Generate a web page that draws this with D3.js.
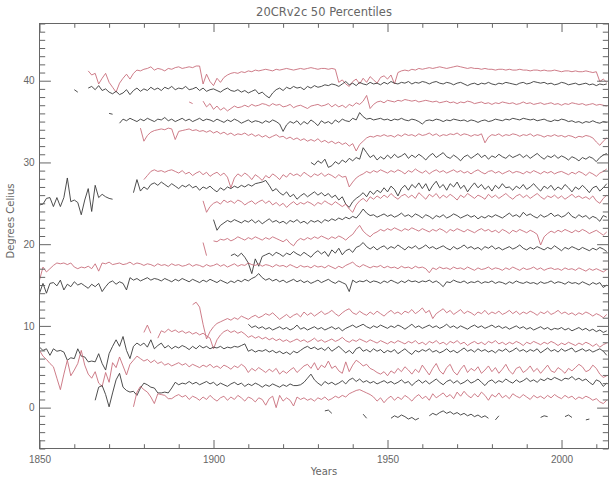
<!doctype html>
<meta charset=utf8>
<title>20CRv2c 50 Percentiles</title>
<style>
  html {
    font-family: 'DejaVu Sans', 'Liberation Sans', sans-serif;
    background-color: white;
  }

  body {
    margin: 0;
  }

  svg {
    display: block;
  }

  .line {
    fill: none;
    stroke-width: 0.9;
  }

  .axis path,
  .axis line,
  .frame {
    stroke: #666;
    fill: none;
  }

  text {
    fill: #666;
  }
</style>
<svg width=613 height=479></svg>
<script src=https://d3js.org/d3.v7.min.js></script>
<script>
  // x axis: years, y axis: degrees
  var xMajorTicks = [1850, 1900, 1950, 2000];
  var yMajorTicks = [0, 10, 20, 30, 40];

  // one array per percentile line, top to bottom, values from the first year on (null = no data)
  var red1 = [41.2, 40.7, 40.9, 39.6, 40.3, 40.9, 39.8, 39.2, 38.6, 39.7, 40.3, 40.8, 40.2, 40.9, 41.3,
    41.2, 41.4, 41.5, 41.7, 41.3, 41.5, 41.4, 41.2, 41.5, 41.4, 41.6, 41.7, 41.5, 41.6, 41.7, 41.6, 41.8, 41.8,
    39.6, 40.8, 39.9, 39.4, 40.3, 39.8, 40.4, 40.7, 40.9,
    41.0, 40.9, 41.1, 41.0, 41.2, 41.1, 41.3, 41.2, 41.3, 41.4, 41.3, 41.2, 41.4, 41.3, 41.4, 41.5, 41.4, 41.3, 41.4, 41.5,
    41.4, 41.5, 41.6, 41.5, 41.4, 41.5, 41.5, 41.4, 41.5, 41.4,
    39.8, 40.1, 39.6, 39.3, 39.9, 40.2, 39.6, 40.3, 39.8, 40.5, 40.1, 39.7, 40.4, 40.6, 40.2, 40.7, 39.6,
    41.0, 41.2, 41.3, 41.2, 41.4, 41.3, 41.5, 41.4, 41.5, 41.6, 41.5, 41.6, 41.7, 41.6, 41.5, 41.6, 41.7, 41.8, 41.7, 41.6,
    41.5, 41.6, 41.5, 41.5, 41.4, 41.5, 41.4, 41.4, 41.3, 41.4, 41.4, 41.3, 41.4, 41.3, 41.3, 41.4, 41.3, 41.3, 41.2, 41.3,
    41.3, 41.2, 41.3, 41.2, 41.2, 41.3, 41.2, 41.1, 41.2, 41.2, 41.1, 41.2, 41.1, 41.1, 41.2, 41.1, 41.0, 41.1,
    39.9, 40.2, 39.8];
  var black1 = [38.9, 38.6, null, null,
    39.1, 39.3, 38.9, 39.4, 38.8, 39.0, 38.6, 38.4, 38.7, 38.3, 38.5, 38.9, 38.3, 38.8, 39.1, 38.7,
    39.0, 38.8, 39.2, 38.9, 39.1, 38.8, 39.2, 39.0, 39.3, 38.9, 39.1, 39.0, 39.3, 38.9, 39.0, 39.2, 38.8, 39.1,
    38.7, 38.9, 39.0, 38.8, 38.6, 38.9, 39.1, 38.8, 38.7, 38.9, 38.6, 38.8, 38.5, 38.7, 38.9, 38.4, 38.6, 38.2,
    37.9, 38.5, 38.9, 39.1, 38.8, 39.2, 39.0, 39.3, 39.1, 39.2, 38.9, 39.3, 39.1, 39.4, 39.2, 39.3, 39.5, 39.4, 39.6, 39.5,
    39.3, 39.6, 39.9, 39.5, 39.7, 39.4, 39.8, 39.6, 39.5, 39.8, 39.6, 39.7, 39.5, 39.8, 39.6, 39.9, 39.7, 39.6, 39.8, 39.7,
    39.9, 39.6, 39.8, 39.7, 39.9, 39.8, 39.6, 39.8, 39.9, 39.7, 39.6, 39.8, 39.7, 39.5, 39.7, 39.8, 39.6, 39.4, 39.6, 39.7,
    39.5, 39.7, 39.6, 39.8, 39.6, 39.5, 39.7, 39.6, 39.8, 39.7, 39.6, 39.5, 39.7, 39.8, 39.6, 39.7, 39.9, 39.8, 39.7, 39.8,
    39.6, 39.7, 39.5, 39.6, 39.8, 39.7, 39.5, 39.6, 39.7, 39.5, 39.6, 39.7, 39.5, 39.6, 39.4, 39.6, 39.5, 39.6];
  var red2 = [37.4, 37.2, null, null,
    37.5, 36.8, 37.2, 36.5, 36.9, 36.4, 36.7, 36.3, 36.6, 36.9, 36.7, 36.8, 37.0, 36.8, 37.1, 36.9, 37.0, 37.2, 37.1, 36.9,
    37.2, 37.0, 37.1, 36.8, 36.9, 37.1, 36.7, 36.9, 37.0, 36.8, 36.6, 36.9, 37.0, 37.1, 36.9, 37.0, 37.2, 36.8, 37.1,
    36.8, 37.0, 36.7, 37.1, 36.9, 37.3, 37.1, 37.5, 38.2, 36.6, 37.1, 37.4, 37.5, 37.3, 37.6, 37.5, 37.4, 37.6, 37.5, 37.7,
    37.6, 37.5, 37.6, 37.4, 37.5, 37.6, 37.5, 37.4, 37.5, 37.3, 37.4, 37.5, 37.3, 37.4, 37.2, 37.4, 37.3, 37.5, 37.4, 37.2,
    37.3, 37.4, 37.2, 37.3, 37.1, 37.3, 37.2, 37.4, 37.3, 37.2, 37.3, 37.1, 37.2, 37.4, 37.2, 37.3, 37.1, 37.2, 37.3, 37.1,
    37.2, 37.3, 37.1, 37.2, 37.0, 37.2, 37.1, 37.3, 37.2, 37.1, 37.2, 37.0, 37.1, 37.2, 37.0, 37.1, 37.0, 36.9];
  var black2 = [36.0, 35.9, null,
    34.8, 35.3, 35.1, 35.4, 35.2, 35.0, 35.3, 35.1, 35.4, 35.2, 35.0, 35.3, 35.2, 35.5, 35.1, 35.3, 35.0, 35.2, 35.4, 35.1,
    35.3, 35.0, 35.2, 35.4, 35.1, 35.3, 35.2, 35.0, 35.3, 35.1, 34.9, 35.2, 35.0, 35.3, 35.1, 34.8, 35.0, 35.2, 34.9, 35.1,
    35.0, 34.8, 35.1, 34.9, 35.2, 35.0, 34.7, 33.8, 34.6, 35.0, 34.8, 35.1, 34.6, 35.0, 34.7, 35.2, 34.9, 34.5, 35.1, 34.8,
    35.0, 34.7, 35.2, 34.9, 35.3, 35.1, 35.0, 35.4, 35.2, 36.1, 35.6, 35.3, 35.4, 35.2, 35.3, 35.4, 35.2, 35.3, 35.1, 35.3,
    35.2, 35.4, 35.2, 35.1, 35.3, 35.2, 35.0, 34.7, 35.1, 35.2, 35.1, 35.3, 35.2, 35.0, 35.2, 35.1, 35.3, 35.2, 35.1, 35.2,
    35.0, 35.2, 35.1, 34.9, 35.1, 35.2, 35.0, 35.1, 35.3, 35.2, 35.1, 35.3, 35.2, 35.4, 35.3, 35.2, 35.4, 35.3, 35.2, 35.3,
    35.1, 35.2, 35.3, 35.1, 35.0, 35.2, 35.1, 35.3, 35.2, 35.0, 35.1, 34.9, 35.0, 34.8, 35.0, 34.9, 35.1, 34.9, 34.8, 35.0, 34.9];
  var red3 = [34.2, 32.6, 33.3, 33.7, 33.9, 34.0, 34.1, 34.0, 34.2, 34.1, 32.8, 33.8, 33.9, 34.0, 34.1, 33.9, 34.0, 33.8, 33.9, 33.7,
    33.9, 33.6, 33.8, 33.5, 33.7, 33.4, 33.6, 33.3, 33.5, 33.4, 33.6, 33.3, 33.5, 33.2, 33.4, 33.1, 33.3, 33.0, 33.2, 33.4,
    33.1, 33.2, 32.9, 33.1, 32.8, 33.0, 32.7, 32.9, 32.6, 32.8, 32.6, 32.9, 32.5, 32.7, 32.4, 32.6, 32.3, 32.5, 32.2, 32.4,
    32.0, 32.3, 31.4, 32.2, 32.6, 33.0, 33.2, 33.1, 33.3, 33.2, 33.4, 33.2, 33.3, 33.1, 33.4, 33.2, 33.5, 33.3, 33.4, 33.2,
    33.5, 33.3, 33.4, 33.6, 33.3, 33.5, 33.2, 33.4, 33.3, 33.5, 33.4, 33.6, 33.3, 33.5, 33.4, 33.2, 33.4, 33.3, 33.5, 32.4,
    33.1, 33.4, 33.3, 33.5, 33.2, 33.4, 33.3, 33.5, 33.4, 33.2, 33.4, 33.3, 33.5, 33.2, 33.4, 33.3, 33.1, 33.3, 33.2, 33.4,
    33.2, 33.3, 33.1, 33.3, 33.2, 33.0, 33.2, 33.1, 33.3, 33.2, 33.0, 32.5, 32.1, 32.6, 33.0];
  var black3 = [30.0, 29.7, 30.2, 29.9, 30.4, 29.4, 29.6, 30.1, 29.8, 30.3, 30.0, 30.5, 30.2, 30.6, 30.4, 31.8, 31.2, 30.6, 30.9, 30.3,
    30.7, 30.4, 30.9, 30.5, 31.0, 30.6, 30.8, 31.1, 30.5, 30.9, 30.6, 31.0, 30.7, 30.3, 30.8, 31.1, 30.6, 30.9, 31.2, 30.7,
    30.5, 30.9, 30.6, 30.2, 30.7, 30.9, 30.5, 30.8, 31.1, 30.6, 30.9, 30.4, 30.8, 30.6, 31.0, 30.7, 30.5, 30.9, 30.6, 30.8,
    31.0, 30.6, 30.9, 30.5, 30.8, 31.1, 30.7, 30.4, 30.8, 30.6, 30.9, 30.5, 30.8, 30.6, 30.3, 30.7, 30.5, 30.2, 30.6, 30.4,
    30.7, 30.5, 30.1, 30.6, 30.9, 31.1];
  var red4 = [27.9, 28.4, 28.9, 29.1, 28.9, 29.0, 28.8, 29.0, 29.1, 28.9, 28.7, 29.0, 28.6, 28.8, 28.4, 28.7, 28.9, 28.5, 28.8, 28.3,
    28.6, 28.8, 28.4, 28.7, 28.2, 26.9, 28.1, 28.6, 28.3, 28.7, 28.4, 27.9, 28.5, 28.2, 27.8, 28.4, 28.1, 28.6, 28.3, 27.9,
    28.5, 28.2, 28.7, 28.4, 28.6, 28.3, 28.8, 28.5, 28.2, 28.6, 28.4, 28.7, 28.3, 28.6, 28.4, 28.1, 28.5, 28.2, 28.3, 27.0,
    27.6, 28.1, 28.4, 28.6, 28.9, 28.7, 29.0, 28.8, 29.1, 28.9, 28.7, 29.0, 28.8, 29.1, 28.9, 28.6, 29.0, 28.8, 29.2, 28.9,
    28.7, 29.0, 28.6, 28.9, 29.1, 28.8, 29.0, 28.7, 28.9, 29.1, 28.8, 29.0, 28.7, 28.9, 28.6, 28.9, 29.1, 28.8, 28.6, 28.9,
    29.0, 28.7, 28.9, 28.6, 28.8, 29.0, 28.7, 28.9, 28.8, 28.6, 28.9, 28.7, 29.0, 28.8, 28.6, 28.9, 28.7, 28.9, 28.6, 28.8,
    28.9, 28.7, 28.5, 28.8, 28.6, 28.9, 28.7, 28.4, 28.8, 28.6, 28.3, 28.7, 28.9, 29.2];
  var black4 = [24.8, 24.9, 25.6, 25.7, 24.6, 25.7, 24.6, 25.7, 28.1, 25.2, 25.4, 25.1, 23.6, 25.4, 26.8, 24.0, 27.2, 25.7, 26.1, 25.8,
    25.6, 25.5, null, null, null, null, null,
    26.3, 27.9, 26.5, 27.0, 26.7, 27.3, 27.5, 27.2, 27.6, 27.3, 27.0, 27.4, 27.1, 26.8, 27.2, 27.0, 27.3, 26.9, 27.1, 26.6,
    27.0, 26.8, 27.1, 26.7, 26.4, 26.9, 26.6, 27.0, 26.8, 27.1, 26.9, 27.2, 27.0, 27.3, 27.1, 27.4, 27.5, 27.6, 27.8, 27.2,
    26.5, 26.8, 26.3, 26.0, 26.4, 25.8, 26.1, 25.5, 25.9, 26.2, 25.8, 26.1, 26.4, 26.0, 26.3, 25.9, 26.2, 25.7, 26.0, 25.4,
    25.8, 24.9, 24.5, 25.2, 25.6, 25.9, 26.3, 25.8, 26.5, 26.1, 26.6, 26.3, 26.9, 26.4, 27.1, 26.7, 25.9, 26.8, 27.2, 26.6,
    27.3, 26.9, 27.5, 26.8, 27.4, 26.5, 27.2, 27.7, 26.9, 27.3, 26.6, 27.4, 27.0, 27.6, 26.8, 27.2, 26.4, 27.0, 27.5, 26.9,
    27.3, 26.7, 27.1, 26.5, 27.2, 26.8, 27.4, 26.9, 27.0, 26.6, 27.1, 26.8, 27.3, 26.7, 27.0, 27.4, 26.9, 26.5, 27.1, 26.8,
    27.2, 26.6, 27.0, 26.7, 27.3, 26.9, 26.4, 27.0, 26.7, 27.2, 26.8, 26.3, 26.9, 27.1, 26.5, 26.9, 27.4];
  var red5 = [25.3, 23.9, 24.6, 25.0, 25.2, 24.9, 25.4, 25.1, 25.3, 25.0, 25.4, 25.2, 24.8, 25.1, 25.3, 24.9, 25.2, 25.4, 25.0, 25.3,
    24.8, 25.1, 24.7, 25.0, 24.5, 24.9, 25.2, 24.8, 25.1, 24.9, 25.2, 25.0, 24.7, 25.1, 24.9, 25.3, 25.0, 24.8, 25.2, 24.9,
    24.6, 24.9, 24.3, 23.9, 24.8, 25.3, 25.6, 25.2, 25.8, 25.5, 25.9, 25.6, 26.0, 25.7, 26.2, 25.8, 25.5, 25.9, 26.1, 25.7,
    26.0, 25.6, 26.3, 25.9, 25.5, 26.1, 25.8, 26.2, 25.6, 26.0, 25.7, 26.1, 25.8, 25.4, 26.0, 25.7, 26.2, 25.9, 25.6, 26.0,
    25.8, 25.5, 26.1, 25.7, 26.0, 25.6, 25.9, 26.2, 25.8, 25.5, 25.9, 26.1, 25.7, 26.0, 25.6, 25.9, 26.2, 25.8, 25.5, 25.9,
    25.7, 26.0, 25.6, 25.9, 25.5, 25.8, 26.1, 25.7, 25.9, 25.6, 25.8, 25.5, 25.9, 25.3, 25.0, 25.6, 26.0];
  var black5 = [23.0, 21.7, 22.3, 22.6, 22.9, 22.7, 23.0, 22.8, 22.6, 22.9, 22.7, 23.0, 22.6, 22.9, 22.5, 22.8, 23.1, 22.7, 22.9, 22.6,
    22.8, 22.5, 22.9, 22.7, 23.0, 22.6, 22.8, 22.5, 22.9, 22.7, 22.9, 22.6, 23.0, 22.8, 23.1, 22.9, 23.2, 23.0, 23.3, 23.1,
    23.4, 23.2, 23.7, 24.3, 23.8, 23.5, 23.6, 23.3, 23.5, 23.7, 23.4, 23.6, 23.3, 23.5, 23.8, 23.4, 23.6, 23.3, 23.7, 23.5,
    23.2, 23.6, 23.4, 23.1, 23.5, 23.3, 23.6, 23.2, 23.4, 23.7, 23.5, 23.2, 23.4, 23.6, 23.3, 23.5, 23.1, 23.4, 23.2, 23.5,
    23.3, 23.6, 23.4, 23.2, 23.5, 23.8, 23.4, 23.6, 23.3, 23.9, 23.5, 23.7, 23.4, 23.2, 23.6, 23.3, 23.5, 23.8, 23.4, 23.6,
    23.3, 23.5, 23.9, 23.4, 23.2, 23.6, 23.3, 23.5, 23.1, 23.4, 23.2, 22.8, 23.5, 23.3];
  var red6 = [20.2, 18.6, null,
    20.4, 20.3, 20.6, 20.5, 20.7, 20.4, 20.6, 20.9, 20.7, 20.5, 20.8, 20.6, 20.9, 20.7, 20.5, 20.8, 20.6, 20.9, 20.7, 20.5,
    20.3, 20.6, 20.1, 19.8, 20.4, 20.7, 20.5, 20.8, 20.6, 20.9, 20.7, 21.0, 20.8, 20.6, 20.9, 20.7, 21.0, 20.8, 20.5, 20.9,
    21.2, 21.8, 22.3, 21.6, 21.2, 20.9, 21.3, 21.5, 21.8, 21.6, 21.9, 21.7, 22.0, 21.8, 21.6, 21.9, 21.7, 22.0, 21.8, 21.6,
    21.9, 21.7, 21.5, 21.8, 21.6, 21.9, 21.7, 21.4, 21.8, 21.6, 21.9, 21.7, 21.5, 21.8, 21.6, 21.4, 21.7, 21.9, 21.6, 21.8,
    21.5, 21.7, 21.4, 21.8, 21.6, 21.3, 21.7, 21.5, 21.8, 21.6, 21.4, 21.7, 21.5, 21.2, 19.9, 20.9, 21.3, 21.6, 21.4, 21.7,
    21.5, 21.8, 21.6, 21.4, 21.7, 21.5, 21.8, 21.6, 21.3, 21.5, 21.7, 21.4, 21.1, 21.5];
  var black6 = [18.6, 18.8, 18.5, 18.9, 18.4, 17.7, 16.4, 18.2, 17.3, 18.5, 18.7, 18.9, 18.6, 19.0, 18.8, 18.5, 18.9, 18.7, 19.1, 18.8,
    18.6, 19.0, 18.7, 18.4, 18.9, 19.2, 18.8, 19.1, 18.5, 19.3, 18.9, 19.5, 18.7, 19.2, 19.4, 19.0, 19.6, 19.8, 20.2, 19.7,
    19.4, 19.7, 19.3, 19.6, 19.8, 19.4, 19.7, 19.5, 19.9, 19.6, 19.3, 19.7, 19.5, 19.8, 19.4, 19.6, 19.9, 19.5, 19.7, 19.4,
    19.6, 19.8, 19.5, 19.3, 19.7, 19.4, 19.6, 19.9, 19.5, 19.7, 19.4, 19.6, 19.3, 19.7, 19.5, 19.8, 19.4, 19.6, 19.3, 19.5,
    19.7, 19.4, 19.6, 19.9, 19.5, 19.3, 19.6, 19.4, 19.7, 19.5, 19.3, 19.6, 19.4, 19.8, 19.5, 19.2, 19.6, 19.4, 19.7, 19.5,
    19.3, 19.6, 19.4, 19.2, 19.5, 19.3, 19.6, 19.4, 19.1];
  var red7 = [15.6, 17.2, 16.6, 17.0, 17.4, 17.7, 17.6, 17.7, 17.5, 17.7, 17.2, 17.0, 17.2, 17.1, 17.3, 17.0, 17.6, 16.7, 17.7, 17.6,
    17.8, 17.5, 17.6, 17.7, 17.5, 17.6, 17.8, 17.5, 17.7, 17.6, 17.4, 17.6, 17.5, 17.3, 17.6, 17.4, 17.5, 17.3, 17.6, 17.4,
    17.5, 17.3, 17.4, 17.6, 17.3, 17.5, 17.4, 17.2, 17.5, 17.3, 17.4, 17.6, 17.3, 17.5, 17.2, 17.4, 17.6, 17.3, 17.5, 17.4,
    17.7, 17.5, 17.4, 17.6, 17.3, 17.5, 17.4, 17.2, 17.5, 17.3, 17.4, 17.2, 17.5, 17.3, 17.1, 17.4, 17.2, 17.3, 17.1, 17.4,
    17.2, 17.3, 17.1, 17.4, 17.2, 17.0, 17.3, 17.1, 17.4, 17.6, 17.8, 17.4, 17.2, 17.5, 17.3, 17.1, 17.3, 17.2, 17.4, 17.1,
    17.3, 17.1, 17.2, 17.0, 17.3, 17.1, 17.2, 17.0, 17.3, 17.1, 17.2, 17.0, 16.5, 17.1, 16.9, 17.2, 17.0, 17.1, 16.9, 17.2,
    17.0, 17.1, 16.9, 17.2, 17.0, 16.8, 17.1, 16.9, 17.0, 17.2, 16.9, 17.1, 17.0, 16.8, 17.1, 16.9, 17.2, 17.0, 16.8, 17.1,
    16.9, 17.0, 17.2, 16.9, 17.1, 16.8, 17.0, 17.1, 16.9, 17.0, 16.8, 17.1, 16.9, 17.0, 16.8, 17.1, 16.9, 16.7, 17.0, 16.8,
    17.0, 16.8, 16.6, 16.9];
  var black7 = [14.0, 15.2, 14.0, 15.2, 15.3, 14.9, 15.6, 14.4, 15.1, 14.8, 15.4, 15.0, 15.2, 14.9, 14.6, 15.1, 14.8, 15.2, 14.2, 14.8,
    15.3, 15.5, 15.1, 15.4, 15.2, 14.4, 15.9, 15.6, 15.8, 15.5, 15.7, 15.9, 15.6, 15.8, 15.7, 15.5, 15.8, 15.6, 15.4, 15.7,
    15.5, 15.8, 15.6, 15.4, 15.7, 15.5, 15.3, 15.6, 15.4, 15.7, 15.5, 15.3, 15.6, 15.4, 15.2, 15.5, 15.3, 15.6, 15.4, 15.7,
    15.5, 15.8, 16.0, 16.4, 15.9, 15.6, 15.8, 15.5, 15.7, 15.4, 15.6, 15.3, 15.5, 15.7, 15.4, 15.6, 15.3, 15.5, 15.2, 15.4,
    15.6, 15.3, 15.5, 15.7, 15.4, 15.2, 15.5, 15.3, 15.1, 14.2, 15.6, 15.3, 15.5, 15.4, 15.6, 15.3, 15.5, 15.4, 15.2, 15.5,
    15.3, 15.6, 15.4, 15.2, 15.5, 15.3, 15.6, 15.4, 15.5, 15.3, 15.5, 15.4, 15.6, 15.3, 15.5, 15.2, 14.8, 15.4, 15.3, 15.6,
    15.4, 15.3, 15.5, 15.2, 15.4, 15.3, 15.5, 15.2, 15.4, 15.3, 15.5, 15.2, 15.4, 15.3, 15.1, 15.4, 15.2, 15.5, 15.3, 15.2,
    15.4, 15.2, 15.3, 15.1, 15.4, 15.2, 15.3, 15.5, 15.2, 15.4, 15.3, 15.1, 15.4, 15.2, 15.3, 15.1, 15.4, 15.2, 15.0, 15.3,
    15.1, 15.3, 14.7, 15.0];
  var red8 = [12.6, 12.9, 12.3, 10.2, 8.4, 9.3, 9.9, 10.3, 10.5, 10.7, 10.9, 10.7, 11.0, 10.8, 11.2, 11.0, 10.8, 11.1, 11.3, 11.0,
    11.2, 11.5, 11.3, 11.6, 11.2, 10.8, 11.1, 11.4, 11.0, 11.3, 11.5, 11.1, 11.7, 11.3, 11.6, 11.2, 11.5, 11.8, 11.4, 11.6,
    11.9, 11.5, 11.2, 11.6, 11.9, 12.1, 11.6, 11.4, 11.8, 11.5, 11.3, 11.7, 11.4, 11.8, 11.5, 11.2, 11.6, 11.9, 11.5, 11.7,
    11.4, 11.8, 11.6, 12.0, 11.5, 11.8, 12.2, 11.6, 11.9, 10.9, 11.5, 11.8, 12.1, 11.6, 11.9, 11.4, 11.7, 12.0, 11.5, 11.8,
    11.6, 11.3, 11.7, 11.5, 11.9, 11.4, 11.7, 11.5, 11.8, 11.4, 11.6, 11.9, 11.5, 11.8, 11.4, 11.7, 11.5, 11.8, 11.6, 11.3,
    11.7, 11.5, 11.8, 11.4, 11.6, 11.9, 11.5, 11.7, 11.4, 11.6, 11.3, 11.6, 11.4, 11.7, 11.5, 11.2, 11.5, 11.3, 11.0, 11.4];
  var black8 = [10.2, 9.8, 10.0, 9.7, 9.9, 9.6, 9.8, 9.5, 9.7, 9.9, 9.6, 9.8, 9.5, 9.7, 10.1, 9.6, 9.8, 9.5, 9.7, 9.9,
    9.6, 9.8, 9.5, 9.7, 9.9, 9.6, 9.8, 9.4, 9.7, 9.9, 10.1, 9.8, 10.0, 10.2, 9.9, 9.7, 10.0, 9.8, 10.1, 9.9,
    9.7, 10.0, 9.8, 10.1, 9.9, 9.6, 9.9, 10.2, 9.8, 10.0, 9.7, 9.9, 10.1, 9.8, 10.0, 9.7, 9.9, 10.2, 9.8, 10.0,
    9.7, 10.0, 9.8, 9.6, 9.9, 10.1, 9.8, 10.0, 9.7, 9.9, 10.1, 9.8, 10.0, 9.7, 9.9, 9.6, 9.8, 10.0, 9.7, 9.9,
    9.6, 9.8, 9.5, 9.7, 9.9, 9.6, 9.8, 9.5, 9.7, 9.6, 9.8, 9.5, 9.7, 9.4, 9.6, 9.8, 9.5, 9.7, 9.4, 9.6,
    9.3, 9.5, 9.2, 9.4];
  var red9 = [9.2, 10.1, 9.1, null,
    8.5, 9.4, 9.2, 9.6, 9.3, 9.5, 9.2, 9.4, 9.1, 9.3, 9.0, 9.2, 8.9, 9.1, 8.8, 8.5, 7.2, 8.3, 8.9, 9.3,
    9.5, 9.2, 9.4, 9.1, 9.3, 9.0, 8.6, 8.8, 8.5, 8.7, 8.4, 8.6, 8.3, 8.5, 8.2, 8.4, 8.1, 8.3, 8.0, 8.2,
    8.4, 8.1, 8.3, 8.0, 8.2, 8.5, 8.1, 8.3, 8.0, 8.2, 8.4, 8.1, 8.3, 8.6, 8.2, 8.0, 8.3, 8.1, 8.4, 8.2,
    8.0, 8.3, 8.1, 7.9, 8.2, 8.0, 7.8, 8.1, 7.9, 8.2, 8.0, 7.8, 8.1, 7.9, 8.2, 7.8, 8.0, 7.7, 8.1, 7.9,
    8.2, 7.8, 8.0, 7.7, 8.1, 7.9, 8.2, 7.8, 8.0, 7.6, 7.9, 8.1, 7.8, 8.0, 7.7, 8.1, 7.9, 8.2, 7.8, 8.0,
    7.7, 8.0, 7.8, 8.1, 7.9, 7.6, 8.0, 7.8, 8.1, 7.9, 7.7, 8.0, 7.8, 8.1, 7.9, 7.6, 7.9, 7.7, 8.0, 7.8,
    7.6, 7.9, 7.7, 8.0, 7.8, 7.5, 7.8, 7.4, 7.7, 7.9];
  var black9 = [7.4, 7.0, 7.2, 6.4, 7.2, 6.9, 7.0, 6.8, 5.8, 6.1, 6.0, 7.2, 6.3, 6.2, 5.6, 5.7, 5.6, 6.6, 5.4, 4.6,
    6.6, 7.5, 8.3, 7.5, 8.7, 7.0, 6.0, 7.5, 7.9, 7.6, 7.9, 7.4, 8.3, 7.2, 7.6, 7.9, 7.3, 7.6, 7.2, 7.5,
    7.3, 7.6, 7.4, 7.1, 7.5, 7.2, 7.6, 7.3, 7.5, 7.2, 7.4, 7.3, 7.5, 7.2, 7.4, 7.3, 7.5, 7.4, 7.6, 7.8,
    6.9, 7.1, 6.8, 7.0, 6.9, 7.1, 6.8, 7.0, 6.7, 6.9, 6.6, 6.8, 6.5, 6.9, 6.7, 7.0, 7.3, 7.5, 7.2, 7.4,
    7.1, 7.3, 7.0, 7.4, 6.9, 7.2, 7.5, 7.1, 6.7, 7.0, 6.6, 7.2, 7.4, 6.9, 7.1, 6.8, 7.2, 6.9, 7.1, 6.7,
    7.0, 6.8, 7.1, 6.6, 6.9, 7.2, 6.8, 6.5, 7.0, 6.8, 7.1, 6.9, 7.2, 6.8, 7.0, 6.7, 6.9, 7.2, 6.8, 7.0,
    6.7, 7.0, 7.3, 6.9, 7.1, 6.8, 7.2, 6.9, 7.1, 6.8, 7.0, 6.7, 7.1, 6.9, 7.2, 6.8, 7.0, 7.3, 6.9, 7.1,
    6.8, 7.1, 6.9, 7.2, 6.7, 7.0, 7.3, 6.9, 7.1, 6.8, 7.2, 6.9, 7.1, 7.3, 6.8, 7.0, 7.2, 6.9, 7.1, 6.8,
    7.0, 7.2, 6.9, 6.4];
  var red10 = [7.0, 6.3, 5.9, 5.4, 5.0, 3.6, 2.2, 4.1, 5.8, 3.9, 4.6, 5.4, 7.0, 5.2, 4.1, 3.6, 4.4, 3.0, 2.6, 4.3,
    3.1, 5.5, 4.9, 6.2, 5.1, 4.0, 5.3, 5.8, 6.3, 6.0, 5.7, 5.9, 5.5, 5.8, 5.4, 5.6, 5.2, 5.4, 5.1, 5.3,
    5.5, 5.2, 5.4, 5.0, 5.3, 5.1, 4.9, 5.2, 5.0, 5.3, 4.9, 5.1, 4.8, 5.2, 5.0, 4.7, 5.1, 4.9, 5.3, 5.0,
    4.3, 4.8, 4.5, 4.9, 4.6, 4.3, 4.7, 4.4, 4.8, 4.1, 4.5, 4.2, 4.6, 4.9, 4.3, 4.7, 5.1, 5.3, 4.8, 5.5,
    4.6, 5.2, 4.9, 5.7, 4.8, 5.1, 4.5, 4.2, 5.6, 4.4, 5.2, 5.8, 5.5, 5.1, 5.3, 4.8, 4.6, 4.3, 4.1, 4.4,
    3.9, 4.5, 4.2, 4.8, 4.4, 5.0, 4.6, 4.1, 4.7, 4.3, 5.2, 4.6, 4.0, 4.8, 5.4, 4.5, 4.1, 4.9, 5.3, 4.4,
    4.0, 4.7, 5.2, 4.3, 4.8, 4.5, 5.0, 4.2, 4.6, 5.1, 4.4, 4.9, 4.2, 4.7, 5.3, 4.5, 4.1, 4.8, 5.0, 4.3,
    4.6, 5.1, 4.4, 4.8, 4.2, 4.7, 5.2, 4.5, 4.3, 4.9, 4.6, 4.2, 4.8, 4.5, 4.9, 5.3, 5.0, 4.4, 4.6, 5.2,
    4.8, 4.1, 3.7, 3.9];
  var black10 = [0.9, 2.5, 2.7, 1.6, 0.1, 1.8, 3.4, 4.2, 2.5, 2.1, 1.9, 2.0, 1.5, 2.4, 3.0, 2.8, 2.5, 2.4, 1.8, 1.8,
    1.9, 1.8, 2.4, 3.1, 2.8, 3.0, 2.9, 3.2, 2.9, 3.1, 2.8, 3.0, 3.2, 2.9, 3.1, 2.7, 3.0, 2.8, 2.6, 2.9,
    3.1, 2.8, 3.0, 2.6, 2.9, 2.7, 3.0, 2.8, 2.5, 2.8, 2.6, 2.9, 2.7, 2.5, 2.8, 2.6, 2.9, 2.7, 2.7, 2.8,
    3.1, 3.6, 4.1, 3.4, 3.0, 2.7, 3.2, 2.9, 3.1, 2.8, 3.0, 3.3, 2.9, 3.4, 3.6, 3.2, 3.5, 3.1, 3.3, 3.0,
    3.2, 2.9, 3.1, 3.3, 3.0, 3.2, 2.9, 3.1, 3.4, 3.0, 3.2, 2.7, 3.1, 3.4, 3.0, 3.3, 2.9, 3.2, 3.5, 3.1,
    2.8, 3.2, 3.4, 3.0, 3.3, 2.9, 3.1, 3.4, 3.0, 3.2, 3.5, 3.1, 2.7, 3.2, 3.4, 3.0, 3.3, 3.1, 3.5, 3.2,
    3.0, 3.4, 3.1, 3.3, 3.6, 3.2, 3.4, 3.1, 3.5, 3.3, 3.6, 3.4, 3.7, 3.5, 3.3, 3.6, 3.5, 3.8, 3.4, 3.6,
    3.3, 3.5, 3.1, 2.8, 3.4, 3.2, 2.6, 3.0];
  var red11 = [0.1, 1.9, 2.6, 2.2, 1.9, 1.3, 0.5, 1.7, 1.6, 1.5, 1.1, 1.1, 1.4, 1.6, 1.3, 1.5, 1.0, 1.4, 1.2, 0.9,
    1.3, 1.0, 1.5, 1.1, 0.8, 1.2, 1.4, 0.9, 1.3, 1.0, 1.5, 1.2, 0.8, 1.3, 1.1, 0.7, 1.2, 1.0, 0.3, 1.1,
    1.4, 0.0, 1.5, 0.8, 1.2, 0.9, 0.2, 1.3, 1.0, 1.2, 0.9, 1.1, 0.8, 1.2, 1.0, 1.3, 0.9, 1.1, 1.4, 1.2,
    1.5, 1.3, 1.7, 1.9, 2.1, 2.2, 2.0, 1.8, 1.6, 1.3, 0.8, 1.2, 0.6, 1.1, 1.4, 0.9, 1.3, 1.0, 1.5, 1.2,
    0.8, 1.3, 1.6, 1.1, 1.4, 0.9, 1.7, 1.2, 1.5, 1.8, 1.3, 1.6, 1.1, 1.9, 1.4, 2.0, 1.5, 1.2, 1.7, 1.3,
    1.9, 1.5, 0.9, 1.6, 1.3, 1.8, 1.2, 1.5, 1.1, 1.7, 1.4, 1.2, 1.6, 1.3, 1.0, 1.5, 1.2, 1.4, 1.1, 1.5,
    1.2, 1.6, 1.3, 1.1, 1.5, 1.2, 1.4, 1.0, 1.3, 1.1, 1.4, 1.2, 0.9, 1.1, 0.7, 0.5, 0.9];
  var black11 = [-0.4, -0.3, -0.7, null, null, null, null, null, null, null, null, -0.8, -1.3, null, null, null, null, null, null,
    -1.3, -1.0, -1.2, -0.9, -1.1, -1.4, -1.2, -1.5, -1.3, null, null,
    -1.0, -0.7, -0.9, -0.6, -0.4, -0.7, -0.5, -0.8, -0.6, -0.9, -0.7, -1.0, -0.8, -1.1, -0.9, -1.2, -1.0, -1.3,
    null, -1.5, -1.0, null, null, null, null, null, null, null, null, null, null, null,
    -1.2, -1.0, -1.1, null, null, null, null, -1.1, -0.9, -1.2, null, null, null, -1.5, -1.4];

  var lineColors = ['#c86e7c', '#3a3a3a'];

  // first year of each array, top to bottom
  var lines = [
    {values: red1, first: 1864, color: lineColors[0]},
    {values: black1, first: 1860, color: lineColors[1]},
    {values: red2, first: 1893, color: lineColors[0]},
    {values: black2, first: 1870, color: lineColors[1]},
    {values: red3, first: 1879, color: lineColors[0]},
    {values: black3, first: 1928, color: lineColors[1]},
    {values: red4, first: 1880, color: lineColors[0]},
    {values: black4, first: 1850, color: lineColors[1]},
    {values: red5, first: 1897, color: lineColors[0]},
    {values: black5, first: 1900, color: lineColors[1]},
    {values: red6, first: 1897, color: lineColors[0]},
    {values: black6, first: 1905, color: lineColors[1]},
    {values: red7, first: 1850, color: lineColors[0]},
    {values: black7, first: 1850, color: lineColors[1]},
    {values: red8, first: 1894, color: lineColors[0]},
    {values: black8, first: 1910, color: lineColors[1]},
    {values: red9, first: 1880, color: lineColors[0]},
    {values: black9, first: 1850, color: lineColors[1]},
    {values: red10, first: 1850, color: lineColors[0]},
    {values: black10, first: 1866, color: lineColors[1]},
    {values: red11, first: 1877, color: lineColors[0]},
    {values: black11, first: 1932, color: lineColors[1]}
  ];

  var svg = d3.select('svg');
  var margin = {
    top: 23.5,
    right: 4.5,
    bottom: 30.5,
    left: 39.5
  };
  var width = svg.attr('width') - margin.left - margin.right;
  var height = svg.attr('height') - margin.top - margin.bottom;
  var g = svg.append('g').attr('transform', 'translate(' + margin.left + ',' + margin.top + ')');

  var x = d3.scaleLinear().domain([1850, 2013.5]).range([0, width]);
  var y = d3.scaleLinear().domain([-5, 47]).range([height, 0]);

  var xMinorTicks = d3.range(1850, 2014, 10).filter(notIn(xMajorTicks));
  var yMinorTicks = d3.range(-5, 48, 1).filter(notIn(yMajorTicks));

  g.append('clipPath')
    .attr('id', 'clip')
    .append('rect')
    .attr('width', width)
    .attr('height', height);

  var line = d3.line()
    .defined(function(d) { return d.value !== null; })
    .x(function(d) { return x(d.year); })
    .y(function(d) { return y(d.value); });

  g.append('g')
    .attr('clip-path', 'url(#clip)')
    .selectAll('.line')
    .data(lines)
    .enter()
    .append('path')
    .attr('class', 'line')
    .style('stroke', function(d) { return d.color; })
    .attr('d', function(d) { return line(points(d)); });

  // ticks point inwards on all four sides
  g.append('g').attr('class', 'axis').attr('transform', 'translate(0,' + height + ')')
    .call(d3.axisBottom(x).tickValues(xMajorTicks).tickFormat(d3.format('d')).tickSize(-8.5).tickSizeOuter(0).tickPadding(7));
  g.append('g').attr('class', 'axis').attr('transform', 'translate(0,' + height + ')')
    .call(d3.axisBottom(x).tickValues(xMinorTicks).tickFormat('').tickSize(-4.3).tickSizeOuter(0));
  g.append('g').attr('class', 'axis')
    .call(d3.axisTop(x).tickValues(xMajorTicks).tickFormat('').tickSize(-8.5).tickSizeOuter(0));
  g.append('g').attr('class', 'axis')
    .call(d3.axisTop(x).tickValues(xMinorTicks).tickFormat('').tickSize(-4.3).tickSizeOuter(0));

  g.append('g').attr('class', 'axis')
    .call(d3.axisLeft(y).tickValues(yMajorTicks).tickSize(-11.4).tickSizeOuter(0).tickPadding(5));
  g.append('g').attr('class', 'axis')
    .call(d3.axisLeft(y).tickValues(yMinorTicks).tickFormat('').tickSize(-5.7).tickSizeOuter(0));
  g.append('g').attr('class', 'axis').attr('transform', 'translate(' + width + ',0)')
    .call(d3.axisRight(y).tickValues(yMajorTicks).tickFormat('').tickSize(-11.4).tickSizeOuter(0));
  g.append('g').attr('class', 'axis').attr('transform', 'translate(' + width + ',0)')
    .call(d3.axisRight(y).tickValues(yMinorTicks).tickFormat('').tickSize(-5.7).tickSizeOuter(0));

  g.selectAll('.axis text')
    .attr('font-family', null)
    .attr('font-size', 10)
    .attr('fill', '#666');
  g.selectAll('.axis .domain').remove();

  g.append('rect')
    .attr('class', 'frame')
    .attr('width', width)
    .attr('height', height);

  svg.append('text')
    .attr('x', margin.left + width / 2)
    .attr('y', 16)
    .attr('text-anchor', 'middle')
    .attr('font-size', 11.5)
    .attr('fill', '#666')
    .text('20CRv2c 50 Percentiles');

  svg.append('text')
    .attr('x', margin.left + width / 2)
    .attr('y', 475)
    .attr('text-anchor', 'middle')
    .attr('font-size', 10)
    .attr('fill', '#666')
    .text('Years');

  // rotated label: slight opacity keeps its anti-aliasing grey
  svg.append('text')
    .attr('transform', 'translate(14,221) rotate(-90)')
    .attr('text-anchor', 'middle')
    .attr('font-size', 10)
    .attr('fill', '#666')
    .attr('opacity', 0.99)
    .text('Degrees Celius');

  function points(d) {
    return d.values.map(function(v, i) {
      return {year: d.first + i, value: v};
    });
  }

  function notIn(list) {
    return function(v) {
      return list.indexOf(v) < 0;
    };
  }
</script>
